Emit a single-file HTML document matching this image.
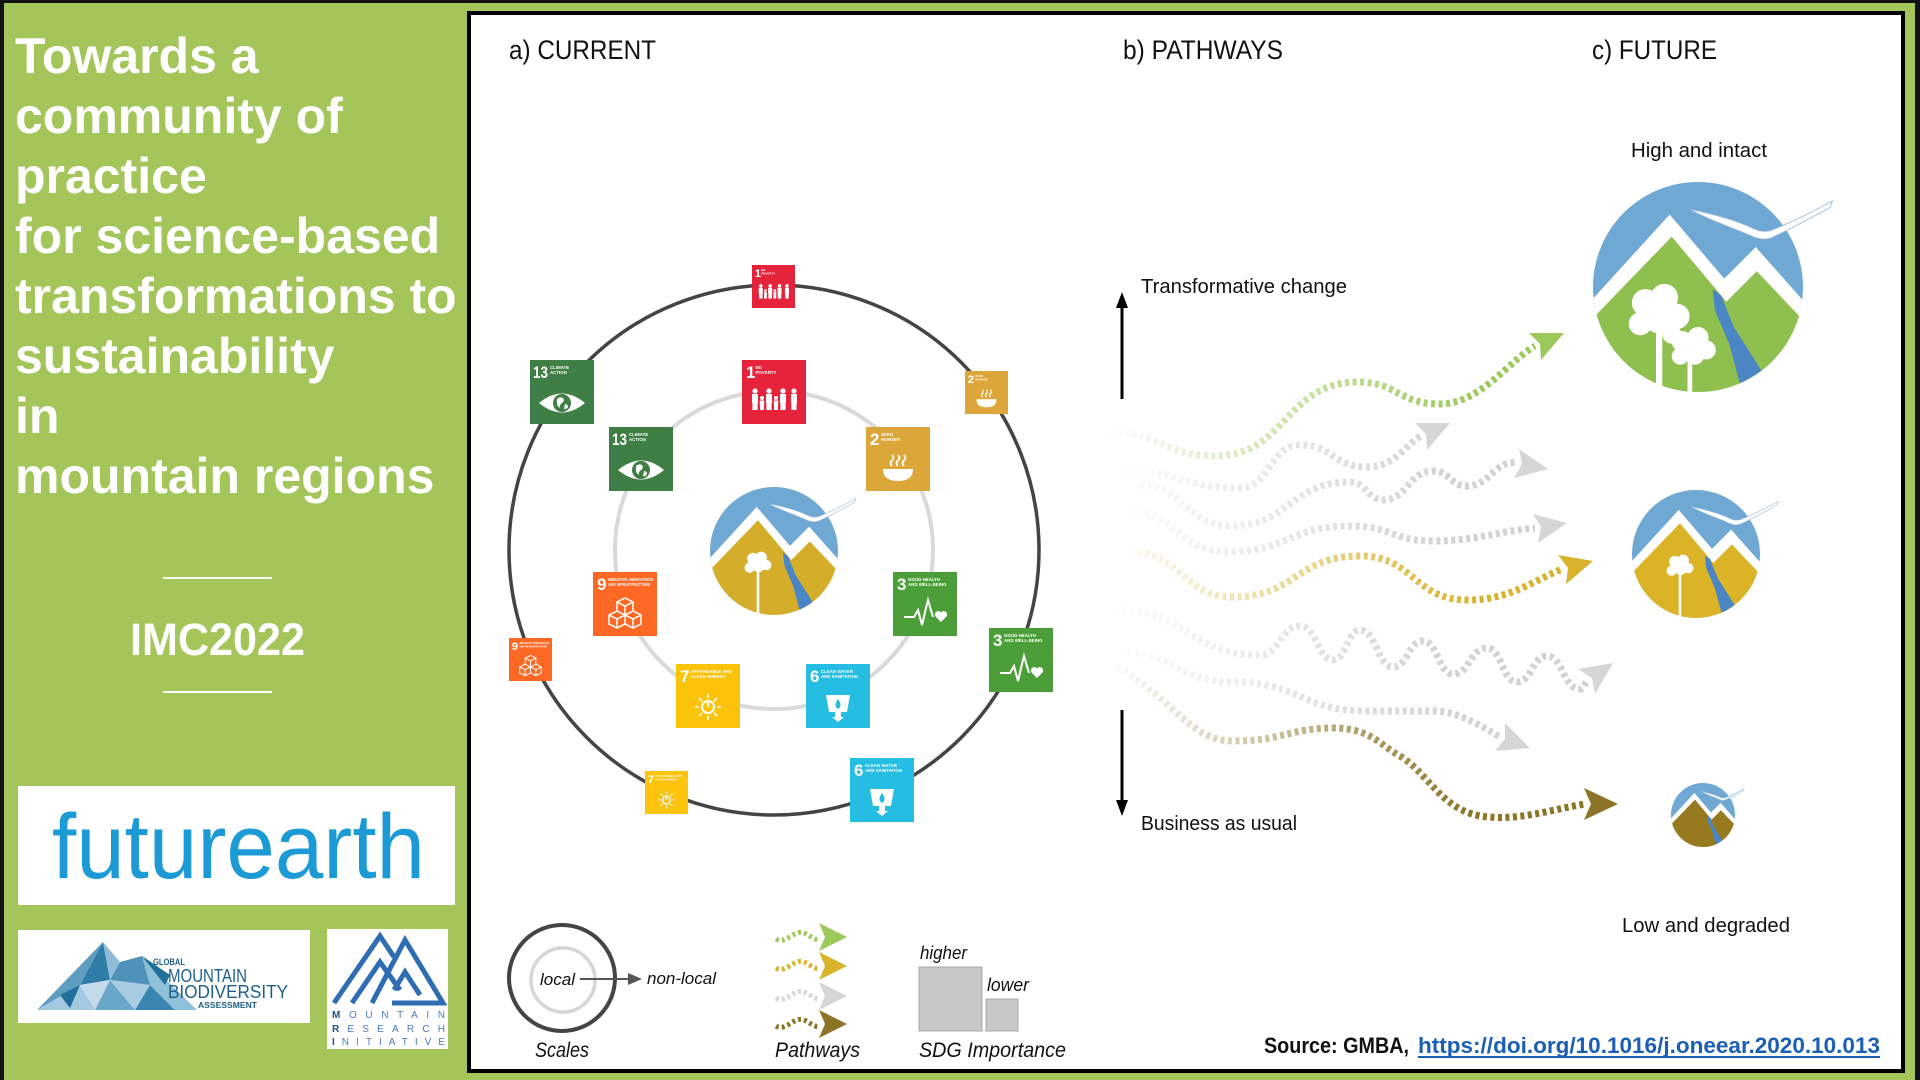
<!DOCTYPE html>
<html>
<head>
<meta charset="utf-8">
<style>
html,body{margin:0;padding:0;width:1920px;height:1080px;overflow:hidden;background:#a3c55a;}
svg{display:block;}
text{font-family:"Liberation Sans",Arial,sans-serif;}
.n{font-size:17px;font-weight:bold;fill:#fff;}
.l{font-size:4.4px;font-weight:bold;fill:#fff;}
</style>
</head>
<body>
<svg width="1920" height="1080" viewBox="0 0 1920 1080" xmlns="http://www.w3.org/2000/svg">
<defs>
  <clipPath id="cc"><circle cx="0" cy="0" r="100"/></clipPath>
  <linearGradient id="gG" gradientUnits="userSpaceOnUse" x1="1105" y1="0" x2="1470" y2="0"><stop offset="0" stop-color="#9cc95a" stop-opacity="0"/><stop offset="1" stop-color="#9cc95a" stop-opacity="1"/></linearGradient>
  <linearGradient id="gY" gradientUnits="userSpaceOnUse" x1="1105" y1="0" x2="1480" y2="0"><stop offset="0" stop-color="#d8b22b" stop-opacity="0"/><stop offset="1" stop-color="#d8b22b" stop-opacity="1"/></linearGradient>
  <linearGradient id="gB" gradientUnits="userSpaceOnUse" x1="1105" y1="0" x2="1470" y2="0"><stop offset="0" stop-color="#8c7427" stop-opacity="0"/><stop offset="1" stop-color="#8c7427" stop-opacity="1"/></linearGradient>
  <linearGradient id="gR" gradientUnits="userSpaceOnUse" x1="1105" y1="0" x2="1450" y2="0"><stop offset="0" stop-color="#d2d2d2" stop-opacity="0"/><stop offset="1" stop-color="#d2d2d2" stop-opacity="1"/></linearGradient>
</defs>

<!-- background & frames -->
<rect x="0" y="0" width="1920" height="1080" fill="#a3c55a"/>
<rect x="0" y="0" width="1920" height="3" fill="#111"/>
<rect x="0" y="0" width="4" height="1080" fill="#111"/>
<rect x="1915" y="0" width="5" height="1080" fill="#111"/>
<rect x="469" y="13" width="1434" height="1058" fill="#fff" stroke="#000" stroke-width="4"/>

<!-- Left title -->
<g font-size="50" font-weight="bold" fill="#fff">
  <text x="15" y="73">Towards a</text>
  <text x="15" y="133">community of</text>
  <text x="15" y="193">practice</text>
  <text x="15" y="253">for science-based</text>
  <text x="15" y="313">transformations to</text>
  <text x="15" y="373">sustainability</text>
  <text x="15" y="433">in</text>
  <text x="15" y="493">mountain regions</text>
</g>
<rect x="163" y="577" width="109" height="2" fill="#fff"/>
<text x="130" y="655" font-size="45" font-weight="bold" fill="#fff" textLength="175" lengthAdjust="spacingAndGlyphs">IMC2022</text>
<rect x="163" y="691" width="109" height="2" fill="#fff"/>

<!-- Future Earth logo -->
<rect x="18" y="786" width="437" height="119" fill="#fff"/>
<text x="52" y="878" font-size="92" fill="#1b9ad6" textLength="373" lengthAdjust="spacingAndGlyphs">futurearth</text>

<!-- GMBA logo -->
<rect x="18" y="930" width="292" height="93" fill="#fff"/>
<g>
  <polygon points="37,1010 103,942 80,985" fill="#5e9cc0"/>
  <polygon points="37,1010 80,985 95,1010" fill="#a3c9e0"/>
  <polygon points="80,985 103,942 110,980" fill="#2f7da7"/>
  <polygon points="80,985 110,980 95,1010" fill="#c3dbea"/>
  <polygon points="95,1010 110,980 135,1010" fill="#6aa6c8"/>
  <polygon points="103,942 120,962 110,980" fill="#8dbbd8"/>
  <polygon points="110,980 120,962 142,956 150,985" fill="#4f91b9"/>
  <polygon points="110,980 150,985 135,1010" fill="#a8cde2"/>
  <polygon points="135,1010 150,985 175,1010" fill="#3a86b0"/>
  <polygon points="142,956 197,1010 175,1010 150,985" fill="#8fc0da"/>
  <polygon points="142,956 165,985 170,975" fill="#1f6f9a"/>
  <polygon points="60,995 80,985 70,1008" fill="#1f6f9a"/>
</g>
<g fill="#1e5f88">
  <text x="153" y="965" font-size="9" font-weight="bold" textLength="32" lengthAdjust="spacingAndGlyphs">GLOBAL</text>
  <text x="168" y="982" font-size="18" textLength="79" lengthAdjust="spacingAndGlyphs">MOUNTAIN</text>
  <text x="168" y="998" font-size="18" textLength="120" lengthAdjust="spacingAndGlyphs">BIODIVERSITY</text>
  <text x="198" y="1008" font-size="8" font-weight="bold" textLength="59" lengthAdjust="spacingAndGlyphs">ASSESSMENT</text>
</g>

<!-- MRI logo -->
<rect x="327" y="929" width="121" height="120" fill="#fff"/>
<g fill="none" stroke="#2e6db4" stroke-width="5" stroke-linejoin="miter">
  <path d="M334,1003 L380,936 L394,957"/>
  <path d="M352,1003 L380,962 L400,990"/>
  <path d="M372,1003 L405,940 L443,1003 L392,1003"/>
  <path d="M394,990 L405,972 L420,995"/>
</g>
<g font-size="10" fill="#4a7bbd">
  <text x="332" y="1018" textLength="113" lengthAdjust="spacing"><tspan font-weight="bold" fill="#1d4f8e">M</tspan>OUNTAIN</text>
  <text x="332" y="1032" textLength="113" lengthAdjust="spacing"><tspan font-weight="bold" fill="#1d4f8e">R</tspan>ESEARCH</text>
  <text x="332" y="1045" textLength="113" lengthAdjust="spacing"><tspan font-weight="bold" fill="#1d4f8e">I</tspan>NITIATIVE</text>
</g>

<!-- Panel headings -->
<g font-size="27" fill="#111">
  <text x="509" y="59" textLength="147" lengthAdjust="spacingAndGlyphs">a) CURRENT</text>
  <text x="1123" y="59" textLength="160" lengthAdjust="spacingAndGlyphs">b) PATHWAYS</text>
  <text x="1592" y="59" textLength="125" lengthAdjust="spacingAndGlyphs">c) FUTURE</text>
</g>

<!-- Scale circles -->
<circle cx="774" cy="550" r="159" fill="none" stroke="#d9d9d9" stroke-width="4"/>
<circle cx="774" cy="550" r="265" fill="none" stroke="#444" stroke-width="3.5"/>

<!-- Center logo (current) -->
<g transform="translate(774,551) scale(0.64)">
  <g clip-path="url(#cc)">
    <rect x="-100" y="-100" width="200" height="200" fill="#6fa8d3"/>
    <path d="M-110,22 L-27,-69 L25,-8 L55,-38 L110,24 L110,110 L-110,110 Z" fill="#fff"/>
    <path d="M-110,40 L-25,-48 L27,14 L56,-15 L110,42 L110,110 L-110,110 Z" fill="#d4ae2b"/>
    <path d="M14,2 L22,8 L34,38 L62,82 L52,100 L42,100 L30,55 L16,22 Z" fill="#4b86c4"/>
    <g fill="#fff">
      <circle cx="-33" cy="12" r="9"/><circle cx="-20" cy="10" r="9"/><circle cx="-12" cy="22" r="8"/><circle cx="-38" cy="26" r="8"/><circle cx="-24" cy="24" r="9"/>
      <rect x="-27" y="25" width="4" height="80"/>
    </g>
  </g>
  <path d="M-8,-74 C12,-70 35,-64 52,-56 C58,-53 64,-52 70,-54 C90,-62 110,-72 128,-82 L126,-76 C108,-66 90,-56 74,-49 C66,-44 58,-45 50,-49 C32,-57 12,-63 -8,-74 Z" fill="#fff" stroke="#9dbddc" stroke-width="1"/>
</g>

<!-- SDG icons -->
<g transform="translate(752,265) scale(0.672)">
  <rect width="64" height="64" fill="#e5243b"/>
  <text x="4" y="18" class="n">1</text><text x="13.5" y="9" class="l">NO</text><text x="13.5" y="14" class="l">POVERTY</text>
  <g fill="#fff">
    <circle cx="13" cy="31" r="2.6"/><rect x="10" y="34" width="6" height="9"/><rect x="10.4" y="43" width="5.2" height="7"/>
    <circle cx="20" cy="38" r="2"/><rect x="17.8" y="40.5" width="4.4" height="5"/><rect x="18" y="45.5" width="4" height="4.5"/>
    <circle cx="27" cy="31" r="2.6"/><rect x="24" y="34" width="6" height="9"/><rect x="24.4" y="43" width="5.2" height="7"/>
    <circle cx="34" cy="38" r="2"/><rect x="31.8" y="40.5" width="4.4" height="5"/><rect x="32" y="45.5" width="4" height="4.5"/>
    <circle cx="41" cy="31" r="2.6"/><rect x="38" y="34" width="6" height="9"/><rect x="38.4" y="43" width="5.2" height="7"/>
    <circle cx="52" cy="31" r="2.6"/><rect x="49" y="34" width="6" height="9"/><rect x="49.4" y="43" width="5.2" height="7"/>
  </g>
</g>
<g transform="translate(530,360)">
  <rect width="64" height="64" fill="#3f7e44"/>
  <text x="3" y="18" class="n" textLength="15" lengthAdjust="spacingAndGlyphs">13</text><text x="20" y="9" class="l">CLIMATE</text><text x="20" y="14" class="l">ACTION</text>
  <path d="M9,43 Q32,24 55,43 Q32,62 9,43 Z" fill="#fff"/><circle cx="32" cy="43" r="9" fill="#3f7e44"/>
  <path d="M27,39 q3,-3 6,-1 q2,3 -1,5 q-3,2 -2,5 q-4,-2 -3,-9 Z M35,44 q3,0 3,3 q-2,3 -4,2 Z" fill="#fff"/>
</g>
<g transform="translate(742,360)">
  <rect width="64" height="64" fill="#e5243b"/>
  <text x="4" y="18" class="n">1</text><text x="13.5" y="9" class="l">NO</text><text x="13.5" y="14" class="l">POVERTY</text>
  <g fill="#fff">
    <circle cx="13" cy="31" r="2.6"/><rect x="10" y="34" width="6" height="9"/><rect x="10.4" y="43" width="5.2" height="7"/>
    <circle cx="20" cy="38" r="2"/><rect x="17.8" y="40.5" width="4.4" height="5"/><rect x="18" y="45.5" width="4" height="4.5"/>
    <circle cx="27" cy="31" r="2.6"/><rect x="24" y="34" width="6" height="9"/><rect x="24.4" y="43" width="5.2" height="7"/>
    <circle cx="34" cy="38" r="2"/><rect x="31.8" y="40.5" width="4.4" height="5"/><rect x="32" y="45.5" width="4" height="4.5"/>
    <circle cx="41" cy="31" r="2.6"/><rect x="38" y="34" width="6" height="9"/><rect x="38.4" y="43" width="5.2" height="7"/>
    <circle cx="52" cy="31" r="2.6"/><rect x="49" y="34" width="6" height="9"/><rect x="49.4" y="43" width="5.2" height="7"/>
  </g>
</g>
<g transform="translate(965,371) scale(0.672)">
  <rect width="64" height="64" fill="#dda63a"/>
  <text x="4" y="18" class="n">2</text><text x="15" y="9" class="l">ZERO</text><text x="15" y="14" class="l">HUNGER</text>
  <path d="M17,42 H47 Q47,54 32,54 Q17,54 17,42 Z" fill="#fff"/>
  <path d="M26,39 q-3,-3 0,-5.5 q3,-2.5 0,-5.5 M32,39 q-3,-3 0,-5.5 q3,-2.5 0,-5.5 M38,39 q-3,-3 0,-5.5 q3,-2.5 0,-5.5" stroke="#fff" stroke-width="1.8" fill="none"/>
</g>
<g transform="translate(609,427)">
  <rect width="64" height="64" fill="#3f7e44"/>
  <text x="3" y="18" class="n" textLength="15" lengthAdjust="spacingAndGlyphs">13</text><text x="20" y="9" class="l">CLIMATE</text><text x="20" y="14" class="l">ACTION</text>
  <path d="M9,43 Q32,24 55,43 Q32,62 9,43 Z" fill="#fff"/><circle cx="32" cy="43" r="9" fill="#3f7e44"/>
  <path d="M27,39 q3,-3 6,-1 q2,3 -1,5 q-3,2 -2,5 q-4,-2 -3,-9 Z M35,44 q3,0 3,3 q-2,3 -4,2 Z" fill="#fff"/>
</g>
<g transform="translate(866,427)">
  <rect width="64" height="64" fill="#dda63a"/>
  <text x="4" y="18" class="n">2</text><text x="15" y="9" class="l">ZERO</text><text x="15" y="14" class="l">HUNGER</text>
  <path d="M17,42 H47 Q47,54 32,54 Q17,54 17,42 Z" fill="#fff"/>
  <path d="M26,39 q-3,-3 0,-5.5 q3,-2.5 0,-5.5 M32,39 q-3,-3 0,-5.5 q3,-2.5 0,-5.5 M38,39 q-3,-3 0,-5.5 q3,-2.5 0,-5.5" stroke="#fff" stroke-width="1.8" fill="none"/>
</g>
<g transform="translate(593,572)">
  <rect width="64" height="64" fill="#fd6925"/>
  <text x="4" y="18" class="n">9</text><text x="15" y="9" class="l" textLength="45" lengthAdjust="spacingAndGlyphs">INDUSTRY, INNOVATION</text><text x="15" y="14" class="l" textLength="42" lengthAdjust="spacingAndGlyphs">AND INFRASTRUCTURE</text>
  <path d="M32,26 L40,30 L40,39 L32,43 L24,39 L24,30 Z M24,30 L32,34 L40,30 M32,34 V43 M24,39 L16,43 V52 L24,56 L32,52 L40,56 L48,52 V43 L40,39 M16,43 L24,47 L32,43 M24,47 V56 M32,43 V52 M32,43 L40,47 L48,43 M40,47 V56" fill="none" stroke="#fff" stroke-width="1.5"/>
</g>
<g transform="translate(893,572)">
  <rect width="64" height="64" fill="#4c9f38"/>
  <text x="4" y="18" class="n">3</text><text x="15" y="9" class="l">GOOD HEALTH</text><text x="15" y="14" class="l">AND WELL-BEING</text>
  <path d="M11,45 H21 L25,38 L29,53 L35,28 L40,45" stroke="#fff" stroke-width="2" fill="none"/>
  <path d="M48,50 L42.5,44.5 A3,3 0 0 1 48,40.5 A3,3 0 0 1 53.5,44.5 Z" fill="#fff"/>
</g>
<g transform="translate(509,638) scale(0.672)">
  <rect width="64" height="64" fill="#fd6925"/>
  <text x="4" y="18" class="n">9</text><text x="15" y="9" class="l" textLength="45" lengthAdjust="spacingAndGlyphs">INDUSTRY, INNOVATION</text><text x="15" y="14" class="l" textLength="42" lengthAdjust="spacingAndGlyphs">AND INFRASTRUCTURE</text>
  <path d="M32,26 L40,30 L40,39 L32,43 L24,39 L24,30 Z M24,30 L32,34 L40,30 M32,34 V43 M24,39 L16,43 V52 L24,56 L32,52 L40,56 L48,52 V43 L40,39 M16,43 L24,47 L32,43 M24,47 V56 M32,43 V52 M32,43 L40,47 L48,43 M40,47 V56" fill="none" stroke="#fff" stroke-width="1.5"/>
</g>
<g transform="translate(989,628)">
  <rect width="64" height="64" fill="#4c9f38"/>
  <text x="4" y="18" class="n">3</text><text x="15" y="9" class="l">GOOD HEALTH</text><text x="15" y="14" class="l">AND WELL-BEING</text>
  <path d="M11,45 H21 L25,38 L29,53 L35,28 L40,45" stroke="#fff" stroke-width="2" fill="none"/>
  <path d="M48,50 L42.5,44.5 A3,3 0 0 1 48,40.5 A3,3 0 0 1 53.5,44.5 Z" fill="#fff"/>
</g>
<g transform="translate(676,664)">
  <rect width="64" height="64" fill="#fcc30b"/>
  <text x="4" y="18" class="n">7</text><text x="15" y="9" class="l">AFFORDABLE AND</text><text x="15" y="14" class="l">CLEAN ENERGY</text>
  <circle cx="32" cy="43" r="6" fill="none" stroke="#fff" stroke-width="2"/><path d="M32,38 V43" stroke="#fff" stroke-width="2"/>
  <path d="M32,30 V34 M32,52 V56 M19,43 H23 M41,43 H45 M23,34 L26,37 M38,49 L41,52 M41,34 L38,37 M26,49 L23,52" stroke="#fff" stroke-width="1.6"/>
</g>
<g transform="translate(806,664)">
  <rect width="64" height="64" fill="#26bde2"/>
  <text x="4" y="18" class="n">6</text><text x="15" y="9" class="l">CLEAN WATER</text><text x="15" y="14" class="l">AND SANITATION</text>
  <path d="M20,31 H44 L41,48 H23 Z" fill="#fff"/><path d="M32,35 Q27,42 32,45 Q37,42 32,35 Z" fill="#26bde2"/>
  <path d="M29,48 V53 H26 L32,58 L38,53 H35 V48 Z" fill="#fff"/>
</g>
<g transform="translate(645,771) scale(0.672)">
  <rect width="64" height="64" fill="#fcc30b"/>
  <text x="4" y="18" class="n">7</text><text x="15" y="9" class="l">AFFORDABLE AND</text><text x="15" y="14" class="l">CLEAN ENERGY</text>
  <circle cx="32" cy="43" r="6" fill="none" stroke="#fff" stroke-width="2"/><path d="M32,38 V43" stroke="#fff" stroke-width="2"/>
  <path d="M32,30 V34 M32,52 V56 M19,43 H23 M41,43 H45 M23,34 L26,37 M38,49 L41,52 M41,34 L38,37 M26,49 L23,52" stroke="#fff" stroke-width="1.6"/>
</g>
<g transform="translate(850,758)">
  <rect width="64" height="64" fill="#26bde2"/>
  <text x="4" y="18" class="n">6</text><text x="15" y="9" class="l">CLEAN WATER</text><text x="15" y="14" class="l">AND SANITATION</text>
  <path d="M20,31 H44 L41,48 H23 Z" fill="#fff"/><path d="M32,35 Q27,42 32,45 Q37,42 32,35 Z" fill="#26bde2"/>
  <path d="M29,48 V53 H26 L32,58 L38,53 H35 V48 Z" fill="#fff"/>
</g>

<!-- Pathways labels & vertical arrows -->
<g fill="#111" font-size="20">
  <text x="1141" y="293" textLength="206" lengthAdjust="spacingAndGlyphs">Transformative change</text>
  <text x="1141" y="830" textLength="156" lengthAdjust="spacingAndGlyphs">Business as usual</text>
</g>
<line x1="1122" y1="306" x2="1122" y2="399" stroke="#000" stroke-width="3"/>
<polygon points="1116,308 1122,292 1128,308" fill="#000"/>
<line x1="1122" y1="710" x2="1122" y2="802" stroke="#000" stroke-width="3"/>
<polygon points="1116,800 1122,816 1128,800" fill="#000"/>

<!-- Pathways -->
<g fill="none" stroke-width="7" stroke-dasharray="4 3.5">
  <path stroke="url(#gR)" d="M1120,470 C1180,470 1180,488 1240,488 C1270,488 1270,445 1300,445 C1333,445 1333,467 1367,467 C1395,467 1405,445 1421,436"/>
  <path stroke="url(#gR)" d="M1140,485 C1185,485 1185,526 1230,526 C1290,526 1290,482 1350,482 C1367,482 1367,500 1383,500 C1408,500 1408,471 1433,471 C1450,471 1450,486 1467,486 C1490,486 1495,460 1516,463"/>
  <path stroke="url(#gR)" d="M1130,512 C1178,512 1178,552 1227,552 C1288,552 1288,526 1350,526 C1392,526 1392,541 1433,541 C1475,541 1500,531 1535,528"/>
  <path stroke="url(#gR)" d="M1115,610 C1188,610 1188,655 1260,655 C1280,655 1280,626 1300,626 C1317,626 1317,660 1333,660 C1347,660 1347,630 1360,630 C1377,630 1377,667 1393,667 C1408,667 1408,641 1423,641 C1438,641 1438,674 1453,674 C1470,674 1470,648 1487,648 C1502,648 1502,682 1517,682 C1532,682 1532,656 1547,656 C1563,656 1563,689 1580,689 C1584,689 1584,685 1587,681"/>
  <path stroke="url(#gR)" d="M1120,652 C1176,652 1176,682 1233,682 C1300,682 1300,711 1367,711 C1400,711 1400,711 1433,711 C1455,711 1475,722 1500,737"/>
  <path stroke="url(#gG)" d="M1110,432 C1162,432 1162,456 1215,456 C1286,456 1286,382 1357,382 C1398,382 1398,404 1440,404 C1480,404 1510,360 1535,346"/>
  <path stroke="url(#gY)" d="M1130,552 C1182,552 1182,597 1233,597 C1296,597 1296,556 1360,556 C1414,556 1414,600 1467,600 C1510,600 1535,580 1562,569"/>
  <path stroke="url(#gB)" d="M1117,667 C1175,700 1190,741 1233,741 C1283,741 1290,728 1333,728 C1370,728 1380,745 1400,756 C1430,775 1440,808 1480,816 C1520,822 1555,808 1586,804"/>
</g>
<polygon points="1564,333 1541,360 1540,344 1529,333" fill="#9cc95a"/>
<polygon points="1450,423 1427,450 1426,434 1415,423" fill="#d6d6d6"/>
<polygon points="1548,469 1514,478 1522,464 1519,449" fill="#d6d6d6"/>
<polygon points="1567,523 1538,543 1541,527 1533,514" fill="#d6d6d6"/>
<polygon points="1593,561 1566,584 1568,568 1558,555" fill="#d8b22b"/>
<polygon points="1613,663 1595,694 1592,678 1578,669" fill="#d6d6d6"/>
<polygon points="1530,748 1495,751 1505,739 1505,723" fill="#d6d6d6"/>
<polygon points="1618,804 1584,820 1591,804 1584,788" fill="#8c7427"/>

<!-- Future logos -->
<text x="1631" y="157" font-size="20" fill="#111" textLength="136" lengthAdjust="spacingAndGlyphs">High and intact</text>
<g transform="translate(1698,287) scale(1.05)">
  <g clip-path="url(#cc)">
    <rect x="-100" y="-100" width="200" height="200" fill="#6fa8d3"/>
    <path d="M-110,22 L-27,-69 L25,-8 L55,-38 L110,24 L110,110 L-110,110 Z" fill="#fff"/>
    <path d="M-110,40 L-25,-48 L27,14 L56,-15 L110,42 L110,110 L-110,110 Z" fill="#8fbf4e"/>
    <path d="M14,2 L22,8 L34,38 L62,82 L52,100 L42,100 L30,55 L16,22 Z" fill="#4b86c4"/>
    <g fill="#fff">
      <circle cx="-50" cy="15" r="13"/><circle cx="-32" cy="10" r="13"/><circle cx="-20" cy="28" r="12"/><circle cx="-55" cy="35" r="11"/><circle cx="-38" cy="32" r="12"/><circle cx="-25" cy="45" r="9"/>
      <rect x="-40" y="30" width="6" height="72"/>
      <circle cx="-15" cy="52" r="10"/><circle cx="0" cy="48" r="10"/><circle cx="8" cy="60" r="9"/><circle cx="-17" cy="66" r="8"/><circle cx="-3" cy="65" r="9"/>
      <rect x="-10" y="60" width="4.5" height="42"/>
    </g>
  </g>
  <path d="M-8,-74 C12,-70 35,-64 52,-56 C58,-53 64,-52 70,-54 C90,-62 110,-72 128,-82 L126,-76 C108,-66 90,-56 74,-49 C66,-44 58,-45 50,-49 C32,-57 12,-63 -8,-74 Z" fill="#fff" stroke="#9dbddc" stroke-width="0.8"/>
</g>
<g transform="translate(1696,554) scale(0.64)">
  <g clip-path="url(#cc)">
    <rect x="-100" y="-100" width="200" height="200" fill="#6fa8d3"/>
    <path d="M-110,22 L-27,-69 L25,-8 L55,-38 L110,24 L110,110 L-110,110 Z" fill="#fff"/>
    <path d="M-110,40 L-25,-48 L27,14 L56,-15 L110,42 L110,110 L-110,110 Z" fill="#dbb326"/>
    <path d="M14,2 L22,8 L34,38 L62,82 L52,100 L42,100 L30,55 L16,22 Z" fill="#4b86c4"/>
    <g fill="#fff">
      <circle cx="-33" cy="12" r="9"/><circle cx="-20" cy="10" r="9"/><circle cx="-12" cy="22" r="8"/><circle cx="-38" cy="26" r="8"/><circle cx="-24" cy="24" r="9"/>
      <rect x="-27" y="25" width="4" height="80"/>
    </g>
  </g>
  <path d="M-8,-74 C12,-70 35,-64 52,-56 C58,-53 64,-52 70,-54 C90,-62 110,-72 128,-82 L126,-76 C108,-66 90,-56 74,-49 C66,-44 58,-45 50,-49 C32,-57 12,-63 -8,-74 Z" fill="#fff" stroke="#9dbddc" stroke-width="1"/>
</g>
<g transform="translate(1703,815) scale(0.32)">
  <g clip-path="url(#cc)">
    <rect x="-100" y="-100" width="200" height="200" fill="#6fa8d3"/>
    <path d="M-110,22 L-27,-69 L25,-8 L55,-38 L110,24 L110,110 L-110,110 Z" fill="#fff"/>
    <path d="M-110,40 L-25,-48 L27,14 L56,-15 L110,42 L110,110 L-110,110 Z" fill="#977a1f"/>
    <path d="M14,2 L22,8 L34,38 L62,82 L52,100 L42,100 L30,55 L16,22 Z" fill="#4b86c4"/>
  </g>
  <path d="M-8,-74 C12,-70 35,-64 52,-56 C58,-53 64,-52 70,-54 C90,-62 110,-72 128,-82 L126,-76 C108,-66 90,-56 74,-49 C66,-44 58,-45 50,-49 C32,-57 12,-63 -8,-74 Z" fill="#fff" stroke="#9dbddc" stroke-width="2"/>
</g>
<text x="1622" y="932" font-size="20" fill="#111" textLength="168" lengthAdjust="spacingAndGlyphs">Low and degraded</text>

<!-- Legend: scales -->
<circle cx="562" cy="978" r="53" fill="none" stroke="#444" stroke-width="4"/>
<circle cx="563" cy="980" r="32" fill="none" stroke="#d6d6d6" stroke-width="3.5"/>
<g font-style="italic" fill="#111">
  <text x="540" y="985" font-size="17" textLength="35" lengthAdjust="spacingAndGlyphs">local</text>
  <text x="647" y="984" font-size="17" textLength="69" lengthAdjust="spacingAndGlyphs">non-local</text>
  <text x="535" y="1057" font-size="21" textLength="54" lengthAdjust="spacingAndGlyphs">Scales</text>
  <text x="775" y="1057" font-size="21" textLength="85" lengthAdjust="spacingAndGlyphs">Pathways</text>
  <text x="920" y="959" font-size="18" textLength="47" lengthAdjust="spacingAndGlyphs">higher</text>
  <text x="987" y="991" font-size="18" textLength="42" lengthAdjust="spacingAndGlyphs">lower</text>
  <text x="919" y="1057" font-size="21" textLength="147" lengthAdjust="spacingAndGlyphs">SDG Importance</text>
</g>
<line x1="580" y1="979" x2="630" y2="979" stroke="#555" stroke-width="2"/>
<polygon points="628,973 642,979 628,985" fill="#555"/>

<!-- Legend: pathways -->
<g fill="none" stroke-width="5" stroke-dasharray="3 3">
  <path stroke="#9cc95a" d="M776,939 C786,945 794,929 804,933 C810,935 814,941 820,939"/>
  <path stroke="#d8b22b" d="M776,968 C786,974 794,958 804,962 C810,964 814,970 820,968"/>
  <path stroke="#d6d6d6" d="M776,998 C786,1004 794,988 804,992 C810,994 814,1000 820,998"/>
  <path stroke="#8c7427" d="M776,1026 C786,1032 794,1016 804,1020 C810,1022 814,1028 820,1026"/>
</g>
<polygon points="847,937 819,951 825,937 819,923" fill="#9cc95a"/>
<polygon points="847,966 819,980 825,966 819,952" fill="#d8b22b"/>
<polygon points="847,996 819,1010 825,996 819,982" fill="#d6d6d6"/>
<polygon points="847,1024 819,1038 825,1024 819,1010" fill="#8c7427"/>

<!-- Legend: SDG importance -->
<rect x="919" y="967" width="63" height="64" fill="#c8c8c8" stroke="#a9a9a9" stroke-width="1"/>
<rect x="986" y="999" width="32" height="32" fill="#c8c8c8" stroke="#a9a9a9" stroke-width="1"/>

<!-- Source -->
<text x="1264" y="1053" font-size="22" font-weight="bold" fill="#111" textLength="145" lengthAdjust="spacingAndGlyphs">Source: GMBA,</text>
<text x="1418" y="1053" font-size="22" font-weight="bold" fill="#1a5fb4" textLength="462" lengthAdjust="spacingAndGlyphs">https://doi.org/10.1016/j.oneear.2020.10.013</text>
<line x1="1418" y1="1057" x2="1880" y2="1057" stroke="#1a5fb4" stroke-width="2"/>
</svg>
</body>
</html>
